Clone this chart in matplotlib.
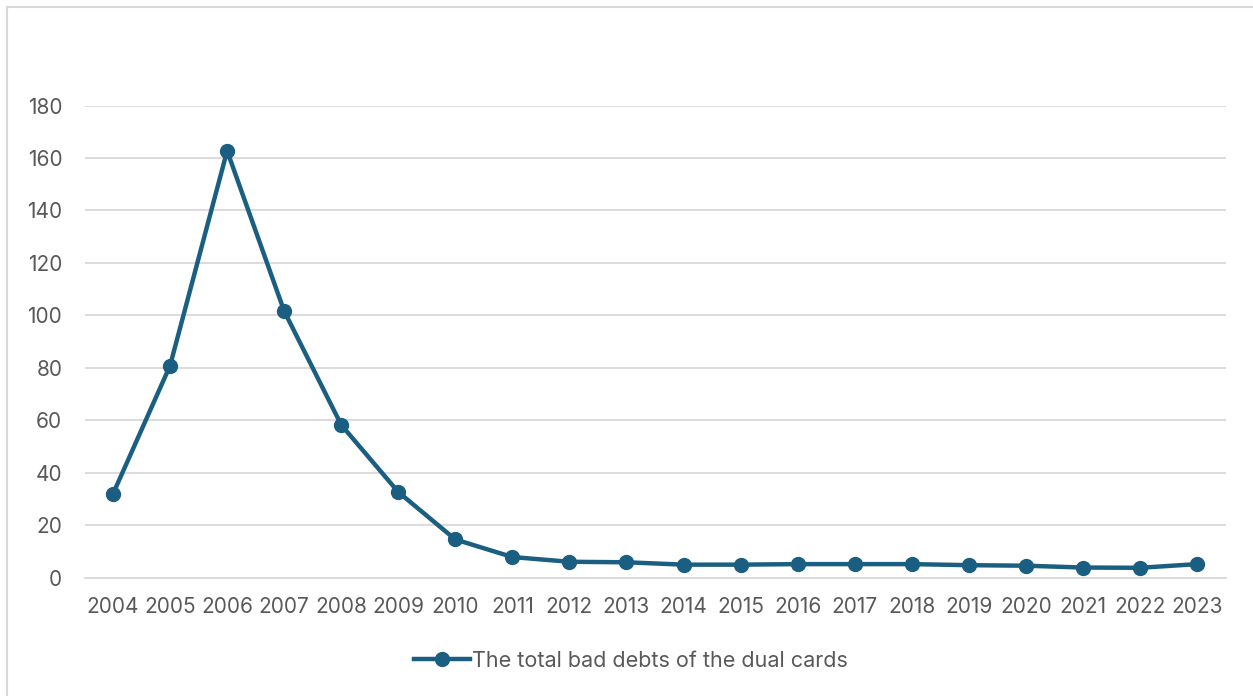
import matplotlib
matplotlib.use("Agg")
import matplotlib.pyplot as plt
from matplotlib.patches import Rectangle

# Data
years = [str(y) for y in range(2004, 2024)]
bad_debts = [31.9, 80.8, 162.7, 101.6, 58.2, 32.6, 14.5, 7.8, 6.0, 5.8,
             4.9, 4.9, 5.1, 5.1, 5.1, 4.7, 4.5, 3.8, 3.7, 5.1]
series_label = "The total bad debts of the dual cards"
y_ticks = list(range(0, 181, 20))

line_color = "#1a5f82"
text_color = "#595959"
grid_color = "#d9d9d9"

plt.rcParams['font.family'] = ['Inter', 'DejaVu Sans']

W, H = 1253, 696
fig = plt.figure(figsize=(W / 100, H / 100), dpi=100)

# axes placement in pixels: left 84.5, right 1225.5, top 105 (y=180), bottom 577.5 (y=0)
left, right, top, bottom = 84.5, 1225.5, 105.5, 577.5
ax = fig.add_axes([left / W, 1 - bottom / H, (right - left) / W, (bottom - top) / H])

x = range(len(years))
line, = ax.plot(x, bad_debts, color=line_color, linewidth=3.2, marker='o',
                markersize=10, label=series_label, solid_joinstyle='round')

ax.set_xlim(-0.5, len(years) - 0.5)
ax.set_ylim(0, 180)
ax.set_yticks(y_ticks)
ax.set_xticks(list(x))
ax.set_xticklabels(years)

ax.grid(True, axis='y', color=grid_color, linewidth=1.3)
ax.set_axisbelow(True)
for side in ['left', 'right', 'top']:
    ax.spines[side].set_visible(False)
ax.spines['bottom'].set_color(grid_color)
ax.spines['bottom'].set_linewidth(1.3)
ax.tick_params(axis='both', length=0, labelsize=15, colors=text_color)
ax.tick_params(axis='y', pad=16)
ax.tick_params(axis='x', pad=14)

leg = fig.legend(handles=[line], loc='center', bbox_to_anchor=(631 / W, 1 - 661 / H),
                 frameon=False, fontsize=15.5, handlelength=2.6, handletextpad=0.1,
                 labelcolor=text_color)

# light chart border like the spreadsheet frame
fig.patches.append(Rectangle((7 / W, -0.05), 1.1, 1 - 7 / H + 0.05,
                             transform=fig.transFigure, fill=False,
                             edgecolor=grid_color, linewidth=1.5))

fig.savefig("out.png", dpi=100)
